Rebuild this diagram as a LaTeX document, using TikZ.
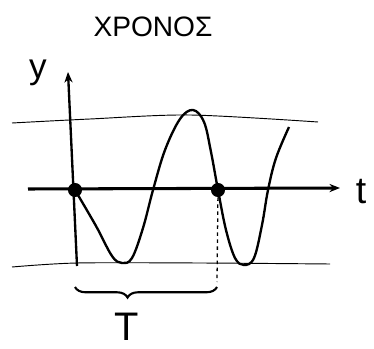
\documentclass[tikz,border=0pt]{standalone}
\usepackage{fontspec}
\setmainfont{Liberation Sans}
\usetikzlibrary{arrows.meta,decorations.pathreplacing}
\tikzset{
  guide/.style={line width=0.8pt},
  axis/.style={line width=1.6pt,-{Stealth[length=9pt,width=7pt]}},
  wave/.style={line width=2pt},
  dot/.style={circle,fill=black,inner sep=0pt,minimum size=12pt},
  label/.style={inner sep=0pt,anchor=base},
}
\begin{document}
\begin{tikzpicture}[x=0.03cm,y=-0.03cm]
\useasboundingbox (0,0) rectangle (374,349);
% guide lines
\draw[guide] plot[smooth] coordinates {(12,123) (90,119) (190,115) (318,122)};
\draw[guide] plot[smooth] coordinates {(12,267) (77,263) (200,263) (330,264)};
% axes
\coordinate (yfoot) at (77,266);
\coordinate (ytop) at (68,72);
\coordinate (tstart) at (28,189);
\coordinate (tend) at (340,188);
\draw[axis,line width=2pt] (yfoot) -- (ytop);
\draw[axis,line width=2.6pt] (tstart) -- (tend);
\node[label] (ylabel) at (38,79) {\fontsize{30}{30}\selectfont y};
\node[label] (tlabel) at (361,204) {\fontsize{32}{32}\selectfont t};
\node[label] (title) at (153,37) {\fontsize{24}{24}\selectfont ΧΡΟΝΟΣ};
% signal
\draw[wave] plot[smooth,tension=0.6] coordinates
  {(75,190) (96,226) (112,256) (122,263) (132,258) (143,228) (153,190)
   (165,150) (180,119) (193,110) (204,122) (211,152) (218,190) (226,230)
   (235,258) (244,265) (254,258) (262,225) (268,190) (276,158) (289,127)};
\node[dot] (d1) at (75,190) {};
\node[dot] (d2) at (218,190) {};
\coordinate (d2foot) at (217,282);
\draw[line width=1.1pt,dashed] (d2) -- (d2foot);
% period
\draw[line width=1.8pt,decorate,decoration={brace,mirror,amplitude=9pt,aspect=0.37}]
  (75,287) -- (217,287);
\node[label] (period) at (127,340) {\fontsize{34}{34}\selectfont T};
\end{tikzpicture}
\end{document}
